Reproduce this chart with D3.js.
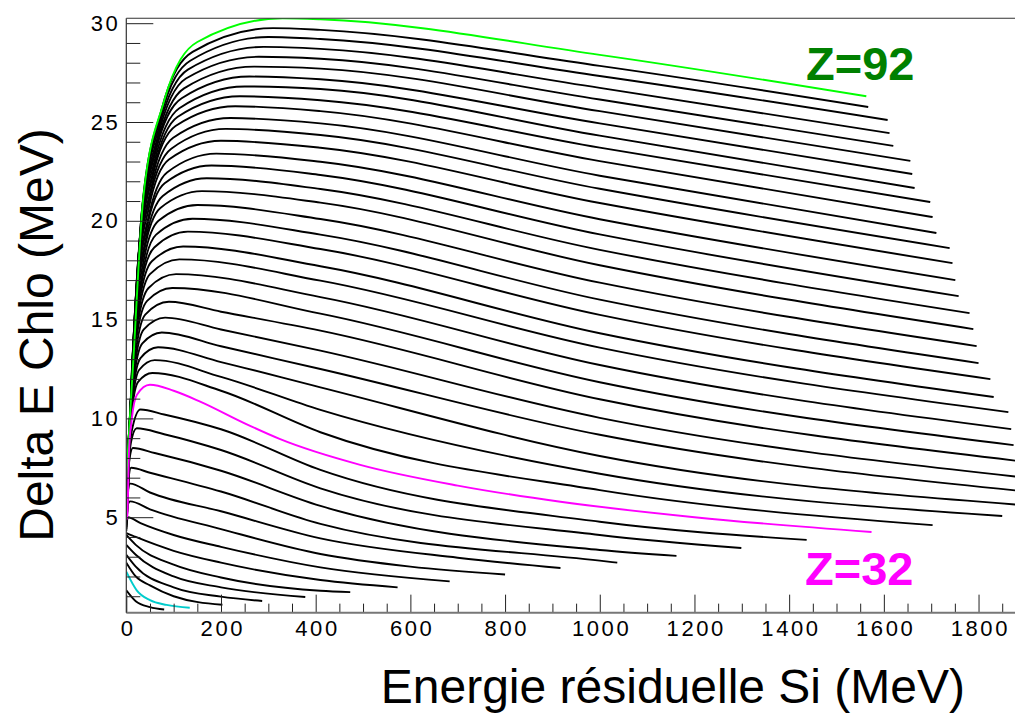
<!DOCTYPE html>
<html>
<head>
<meta charset="utf-8">
<style>
body { margin: 0; background: #fff; }
text { font-family: "Liberation Sans", Arial, sans-serif; }
.curve { fill: none; stroke-width: 1.9px; stroke-linejoin: round; stroke-linecap: butt; }
</style>
</head>
<body>
<svg width="1015" height="715"></svg>
<script src="https://cdn.jsdelivr.net/npm/d3@7/dist/d3.min.js"></script>
<script>
// charge of each curve, heaviest first
var zList = [92, 90, 88, 86, 84, 82, 80, 78, 76, 74, 72, 70, 68, 66, 64, 62, 60, 58, 56, 54,
             52, 50, 48, 46, 44, 42, 40, 38, 36, 34, 32, 30, 28, 26, 24, 22, 20, 18, 16, 14,
             12, 10, 8, 6, 4];

// [E residual (MeV), Delta E (MeV)], same order as zList
var curvePoints = [
  [[0,7.0],[15,13.0],[36,21.2],[79,26.0],[150,29.05],[330,30.25],[410,30.2],[1000,28.4],[1563,26.3]],
  [[0,6.9],[14,12.8],[34,20.8],[74,25.6],[140,28.55],[310,29.75],[410,29.66],[1000,27.84],[1567,25.76]],
  [[0,6.85],[13.5,12.6],[33,20.5],[72,25.2],[135,28.1],[300,29.3],[410,29.2],[1000,27.33],[1608,25.1]],
  [[0,6.8],[13,12.4],[32,20.2],[70,24.8],[130,27.65],[290,28.8],[410,28.7],[1000,26.73],[1612,24.44]],
  [[0,6.75],[12.6,12.2],[31,19.8],[67,24.3],[126,27.2],[280,28.3],[410,28.2],[1000,26.14],[1620,23.79]],
  [[0,6.7],[12.2,12.0],[30,19.5],[65,23.9],[122,26.7],[270,27.8],[410,27.7],[1000,25.55],[1656,23.03]],
  [[0,6.6],[11.7,11.7],[29,19.1],[62,23.5],[117,26.2],[260,27.3],[410,27.16],[1000,24.93],[1660,22.37]],
  [[0,6.55],[11.3,11.5],[27.5,18.8],[60,23.05],[112,25.7],[250,26.8],[410,26.67],[1000,24.31],[1665,21.66]],
  [[0,6.5],[10.8,11.3],[26.4,18.4],[58,22.6],[108,25.25],[240,26.3],[410,26.1],[1000,23.7],[1698,20.95]],
  [[0,6.45],[10.4,11.1],[25.3,18.1],[55,22.2],[104,24.8],[230,25.8],[410,25.55],[1000,23.02],[1703,20.19]],
  [[0,6.4],[9.9,10.8],[24.2,17.6],[53,21.7],[99,24.2],[220,25.2],[410,24.93],[1000,22.28],[1711,19.38]],
  [[0,6.3],[9.5,10.6],[23.1,17.3],[50,21.2],[95,23.65],[210,24.65],[410,24.34],[1000,21.62],[1739,18.62]],
  [[0,6.25],[9,10.3],[22,16.8],[48,20.7],[90,23.1],[200,24.05],[410,23.7],[1000,20.9],[1745,17.86]],
  [[0,6.2],[8.6,10.1],[20.9,16.4],[46,20.1],[86,22.45],[190,23.4],[410,22.99],[1000,20.08],[1751,17.0]],
  [[0,6.1],[8.1,9.8],[19.8,16.0],[43,19.6],[81,21.9],[180,22.8],[410,22.32],[1000,19.31],[1758,16.19]],
  [[0,6.05],[7.7,9.5],[18.7,15.5],[41,19.05],[77,21.25],[170,22.15],[410,21.61],[1000,18.53],[1781,15.33]],
  [[0,6.0],[7.2,9.25],[17.6,15.05],[38,18.5],[72,20.65],[160,21.5],[410,20.92],[1000,17.75],[1789,14.52]],
  [[0,5.9],[6.8,8.95],[16.5,14.55],[36,17.9],[68,20.0],[150,20.8],[410,20.09],[1000,16.87],[1796,13.66]],
  [[0,5.85],[6.3,8.65],[15.4,14.05],[34,17.3],[63,19.3],[140,20.1],[410,19.3],[1000,16.01],[1800,12.8]],
  [[0,5.8],[5.9,8.35],[14.3,13.6],[31,16.7],[59,18.65],[130,19.45],[410,18.57],[1000,15.24],[1825,11.99]],
  [[0,5.7],[5.4,8.05],[13.2,13.1],[29,16.1],[54,17.95],[120,18.7],[410,17.7],[1000,14.31],[1832,11.08]],
  [[0,5.65],[5,7.75],[12.3,12.65],[27,15.5],[50,17.3],[112,18.05],[410,16.97],[1000,13.58],[1863,10.32]],
  [[0,5.6],[4.7,7.45],[11.6,12.1],[25,14.9],[47,16.6],[105,17.3],[410,16.14],[1000,12.7],[1869,9.46]],
  [[0,5.5],[4.4,7.15],[10.7,11.6],[23,14.3],[44,15.95],[97,16.6],[410,15.3],[1000,11.83],[1874,8.65]],
  [[0,5.4],[4,6.85],[9.9,11.1],[22,13.7],[40,15.25],[90,15.9],[200,15.4],[410,14.44],[1000,10.97],[1900,7.8]],
  [[0,5.3],[3.7,6.5],[9,10.6],[20,13.0],[37,14.5],[82,15.1],[200,14.5],[410,13.43],[1000,10.03],[1900,7.0]],
  [[0,5.2],[3.4,6.2],[8.3,10.05],[18,12.35],[34,13.8],[75,14.35],[200,13.65],[410,12.5],[1000,9.17],[1900,6.3]],
  [[0,5.1],[3,5.85],[7.4,9.5],[16,11.7],[30,13.05],[67,13.6],[200,12.85],[410,11.57],[1000,8.1],[1900,5.6]],
  [[0,5.0],[2.7,5.5],[6.6,8.95],[14.4,11.1],[27,12.45],[60,12.95],[200,12.1],[410,10.43],[1000,7.2],[1850,5.06]],
  [[0,4.95],[2.5,5.3],[6,8.55],[13,10.6],[25,11.85],[55,12.3],[200,11.4],[410,9.3],[1000,6.37],[1703,4.6]],
  [[0,4.86],[2.3,5.1],[5.5,8.2],[12,10.05],[22.5,11.2],[50,11.7],[100,11.4],[156,10.85],[250,9.75],[325,8.95],[494,7.65],[700,6.6],[917,5.78],[1200,5.0],[1574,4.25]],
  [[0,4.9],[2,5.6],[5,7.6],[11,9.3],[30,10.45],[80,10.2],[200,9.45],[410,7.39],[1000,4.77],[1437,3.85]],
  [[0,4.8],[2,5.7],[5,7.5],[10,8.8],[22,9.5],[80,9.2],[200,8.4],[410,6.46],[1000,4.1],[1299,3.44]],
  [[0,4.7],[2,5.9],[5,7.6],[14,8.5],[60,8.25],[200,7.35],[410,5.57],[1000,3.34],[1162,3.04]],
  [[0,4.6],[2,5.9],[5,7.0],[10,7.5],[50,7.25],[200,6.3],[410,4.66],[1000,2.8],[1037,2.7]],
  [[0,4.5],[3,6.3],[8,6.7],[50,6.25],[200,5.3],[410,3.93],[700,2.95],[917,2.43]],
  [[0,4.4],[3,5.6],[8,5.8],[50,5.4],[200,4.4],[410,3.14],[600,2.5],[800,2.1]],
  [[0,4.3],[3,5.0],[30,4.7],[100,4.1],[200,3.5],[410,2.46],[683,1.75]],
  [[0,4.2],[20,4.0],[100,3.3],[200,2.7],[410,1.82],[573,1.45]],
  [[0,4.1],[20,3.6],[100,2.6],[200,1.95],[410,1.28],[473,1.21]],
  [[0,3.6],[20,3.1],[100,2.0],[200,1.45],[378,0.96]],
  [[0,3.1],[20,2.5],[100,1.45],[200,0.98],[287,0.76]],
  [[0,2.7],[20,2.0],[50,1.55],[100,1.0],[203,0.57]],
  [[0,2.24],[22,1.3],[50,0.8],[85,0.56],[134,0.42]],
  [[0,1.3],[20,0.75],[50,0.45],[80,0.33]]
];

var xMajor = [0, 200, 400, 600, 800, 1000, 1200, 1400, 1600, 1800];
var yMajor = [5, 10, 15, 20, 25, 30];
var labelZ = [92, 32];

var curveColor = { 92: "#00ff00", 32: "#ff00ff", 6: "#00cccc" };
var labelColor = { 92: "#008000", 32: "#ff00ff" };

var svg = d3.select("svg"),
    width = +svg.attr("width"),
    height = +svg.attr("height");

var x = d3.scaleLinear().domain([0, 1877]).range([126.3, 1015]);
var y = d3.scaleLinear().domain([0, 30]).range([616, 23.2]);
var yLo = 0.17, yHi = 30.25;

var plotL = x(0), plotR = width, plotT = y(yHi), plotB = y(yLo);

svg.append("rect").attr("width", width).attr("height", height).attr("fill", "#fff");

svg.append("defs").append("clipPath").attr("id", "plot")
  .append("rect")
    .attr("x", plotL).attr("y", plotT)
    .attr("width", plotR - plotL).attr("height", plotB - plotT);

var line = d3.line()
    .x(function(d) { return x(d[0]); })
    .y(function(d) { return y(d[1]); })
    .curve(d3.curveMonotoneX);

var g = svg.append("g").attr("clip-path", "url(#plot)");

var data = zList.map(function(z, i) { return { z: z, pts: curvePoints[i] }; });

g.selectAll("path.black")
  .data(data.filter(function(d) { return !curveColor[d.z]; }))
  .enter().append("path")
    .attr("class", "curve black")
    .attr("stroke", "#000")
    .attr("d", function(d) { return line(d.pts); });

g.selectAll("path.hi")
  .data(data.filter(function(d) { return curveColor[d.z]; }))
  .enter().append("path")
    .attr("class", "curve hi")
    .attr("stroke", function(d) { return curveColor[d.z]; })
    .attr("d", function(d) { return line(d.pts); });

// axes
var xMinor = d3.range(0, 1877, 50).filter(function(v) { return v % 200 !== 0; });
var yMinor = d3.range(1, 31, 1).filter(function(v) { return v % 5 !== 0; });

function styleAxis(sel) {
  sel.selectAll(".tick line").attr("stroke", "#222").attr("stroke-width", 1);
  sel.selectAll(".tick text")
      .attr("fill", "#000")
      .style("font-size", "22px")
      .style("letter-spacing", "2.6px")
      .style("font-family", "'Liberation Sans', Arial, sans-serif");
}

var gx = svg.append("g")
    .attr("transform", "translate(0," + plotB + ")")
    .call(d3.axisBottom(x).tickValues(xMajor).tickSize(-18).tickSizeOuter(0).tickPadding(8).tickFormat(d3.format("d")));
gx.call(styleAxis);
gx.selectAll(".tick text").attr("dx", "1.3px");
gx.select(".domain").remove();
svg.append("g")
    .attr("transform", "translate(0," + plotB + ")")
    .call(d3.axisBottom(x).tickValues(xMinor).tickSize(-9).tickSizeOuter(0).tickFormat(""))
    .call(styleAxis)
    .select(".domain").remove();

var gy = svg.append("g")
    .attr("transform", "translate(" + plotL + ",0)")
    .call(d3.axisLeft(y).tickValues(yMajor).tickSize(-27).tickSizeOuter(0).tickPadding(6));
gy.call(styleAxis);
gy.select(".domain").remove();
svg.append("g")
    .attr("transform", "translate(" + plotL + ",0)")
    .call(d3.axisLeft(y).tickValues(yMinor).tickSize(-14).tickSizeOuter(0).tickFormat(""))
    .call(styleAxis)
    .select(".domain").remove();

// frame
svg.append("line").attr("x1", plotL).attr("x2", plotR).attr("y1", plotB).attr("y2", plotB)
    .attr("stroke", "#777").attr("stroke-width", 2);
svg.append("line").attr("x1", plotL).attr("x2", plotR).attr("y1", plotT).attr("y2", plotT)
    .attr("stroke", "#333").attr("stroke-width", 1);
svg.append("line").attr("x1", plotL).attr("x2", plotL).attr("y1", plotT).attr("y2", plotB)
    .attr("stroke", "#333").attr("stroke-width", 1.2);

// axis titles
svg.append("text")
    .attr("x", 965).attr("y", 703)
    .attr("text-anchor", "end")
    .style("font-size", "48px")
    .text("Energie résiduelle Si (MeV)");

svg.append("text")
    .attr("transform", "translate(53,335) rotate(-90)")
    .attr("text-anchor", "middle")
    .style("font-size", "48px")
    .text("Delta E Chlo (MeV)");

// Z labels
var labelPos = { 92: [806, 80], 32: [805, 585] };
svg.selectAll("text.zlab")
  .data(labelZ)
  .enter().append("text")
    .attr("class", "zlab")
    .attr("x", function(z) { return labelPos[z][0]; })
    .attr("y", function(z) { return labelPos[z][1]; })
    .attr("fill", function(z) { return labelColor[z]; })
    .style("font-size", "47px")
    .style("font-weight", "bold")
    .text(function(z) { return "Z=" + z; });
</script>
</body>
</html>
